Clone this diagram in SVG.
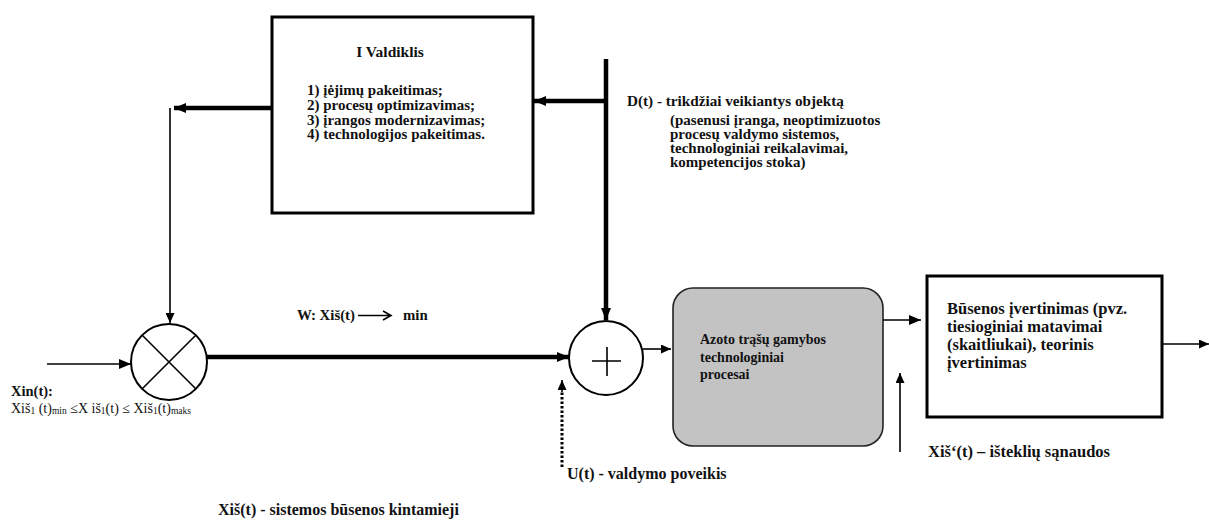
<svg xmlns="http://www.w3.org/2000/svg" width="1209" height="520" viewBox="0 0 1209 520">
  <style>
    .t { font-family: "Liberation Serif", "Times New Roman", serif; font-weight: bold; fill: #111; }
    .n { font-family: "Liberation Serif", "Times New Roman", serif; font-weight: normal; fill: #111; }
    .box { fill: #fff; stroke: #000; stroke-width: 3; }
    .sum { fill: #fff; stroke: #000; stroke-width: 2; }
    .thick { stroke: #000; stroke-width: 4.5; fill: none; }
    .thin { stroke: #000; stroke-width: 1.6; fill: none; }
  </style>
  <defs>
    <marker id="ah" markerUnits="userSpaceOnUse" markerWidth="12" markerHeight="10" refX="12" refY="5" orient="auto">
      <path d="M0,0 L12,5 L0,10 z" fill="#000"/>
    </marker>
    <marker id="ahs" markerUnits="userSpaceOnUse" markerWidth="10" markerHeight="9" refX="10" refY="4.5" orient="auto">
      <path d="M0,0 L10,4.5 L0,9 z" fill="#000"/>
    </marker>
  </defs>

  <rect width="1209" height="520" fill="#fff"/>

  <!-- controller block -->
  <g id="valdiklis">
    <rect class="box" x="272" y="17" width="261" height="196"/>
    <text class="t" x="390" y="57" font-size="15.5" text-anchor="middle">I Valdiklis</text>
    <text class="t" x="307" y="95" font-size="15">1) įėjimų pakeitimas;</text>
    <text class="t" x="307" y="110" font-size="15">2) procesų optimizavimas;</text>
    <text class="t" x="307" y="124.5" font-size="15">3) įrangos modernizavimas;</text>
    <text class="t" x="307" y="139" font-size="15">4) technologijos pakeitimas.</text>
  </g>

  <!-- disturbance label -->
  <g id="trikdziai">
    <text class="t" x="627" y="106" font-size="15.2">D(t) - trikdžiai veikiantys objektą</text>
    <text class="t" x="670" y="124.5" font-size="15">(pasenusi įranga, neoptimizuotos</text>
    <text class="t" x="670" y="138.8" font-size="15">procesų valdymo sistemos,</text>
    <text class="t" x="670" y="153.1" font-size="15">technologiniai reikalavimai,</text>
    <text class="t" x="670" y="167.4" font-size="15">kompetencijos stoka)</text>
  </g>

  <!-- multiplier junction -->
  <g id="daugiklis">
    <circle class="sum" cx="169" cy="362" r="38"/>
    <path class="thin" d="M142,335 L196,389 M196,335 L142,389" stroke-width="2"/>
  </g>

  <!-- input label -->
  <g id="iejimas">
    <text class="t" x="11" y="396" font-size="14.5">Xin(t):</text>
    <text class="n" x="11" y="413" font-size="14">Xiš<tspan font-size="9.5" dy="1">1</tspan><tspan dy="-1"> (t)</tspan><tspan font-size="9.5" dy="1">min</tspan><tspan dy="-1"> ≤X iš</tspan><tspan font-size="9.5" dy="1">1</tspan><tspan dy="-1">(t) ≤ Xiš</tspan><tspan font-size="9.5" dy="1">1</tspan><tspan dy="-1">(t)</tspan><tspan font-size="9.5" dy="1">maks</tspan></text>
  </g>

  <!-- goal label -->
  <g id="tikslas">
    <text class="t" x="297" y="320" font-size="14.8">W: Xiš(t)</text>
    <path class="thin" d="M358,315.5 L391,315.5 M383,311 L391,315.5 L383,320" stroke-width="1.2"/>
    <text class="t" x="403" y="320" font-size="14.8">min</text>
  </g>

  <!-- summing junction -->
  <g id="sumatorius">
    <circle class="sum" cx="606" cy="358" r="37"/>
    <path class="thin" d="M592,361 L621,361 M607,347 L607,376" stroke-width="1.6"/>
  </g>

  <!-- process block -->
  <g id="procesai">
    <rect x="673" y="288" width="210" height="158" rx="20" ry="20" fill="#c3c3c3" stroke="#222" stroke-width="1.6"/>
    <text class="t" x="700" y="344" font-size="14">Azoto trąšų gamybos</text>
    <text class="t" x="700" y="362" font-size="14">technologiniai</text>
    <text class="t" x="700" y="379" font-size="14">procesai</text>
  </g>

  <!-- state estimation block -->
  <g id="busena">
    <rect class="box" x="927" y="276" width="235" height="141"/>
    <text class="t" x="947" y="314" font-size="16.5">Būsenos įvertinimas (pvz.</text>
    <text class="t" x="947" y="332" font-size="16.5">tiesioginiai matavimai</text>
    <text class="t" x="947" y="350" font-size="16.5">(skaitliukai), teorinis</text>
    <text class="t" x="947" y="368" font-size="16.5">įvertinimas</text>
  </g>

  <!-- other labels -->
  <g id="valdymas">
    <text class="t" x="567" y="479" font-size="16">U(t) - valdymo poveikis</text>
  </g>
  <g id="sanaudos">
    <text class="t" x="928" y="457" font-size="16.5">Xiš‘(t) – išteklių sąnaudos</text>
  </g>
  <g id="kintamieji">
    <text class="t" x="218" y="515" font-size="16">Xiš(t) - sistemos būsenos kintamieji</text>
  </g>

  <!-- connectors -->
  <g id="connectors">
    <line class="thick" x1="606" y1="59" x2="606" y2="320" stroke-width="5" marker-end="url(#ah)"/>
    <line class="thick" x1="604" y1="101" x2="534" y2="101" marker-end="url(#ah)"/>
    <line class="thick" x1="272" y1="108" x2="174" y2="108" marker-end="url(#ah)"/>
    <line class="thin" x1="170" y1="108" x2="170" y2="323" marker-end="url(#ahs)"/>
    <line class="thin" x1="47" y1="364" x2="131" y2="364" marker-end="url(#ah)"/>
    <line class="thick" x1="207" y1="357" x2="569" y2="357" marker-end="url(#ah)"/>
    <line class="thin" x1="643" y1="349" x2="671" y2="349" marker-end="url(#ahs)"/>
    <line x1="562" y1="467" x2="562" y2="392" stroke="#000" stroke-width="3" stroke-dasharray="2.5,2"/>
    <line class="thin" x1="562" y1="392" x2="562" y2="380" stroke-width="0" marker-end="url(#ahs)"/>
    <line class="thin" x1="883" y1="320" x2="921" y2="320" marker-end="url(#ah)"/>
    <line class="thin" x1="900" y1="452" x2="900" y2="373" marker-end="url(#ahs)"/>
    <line class="thin" x1="1162" y1="344" x2="1209" y2="344" marker-end="url(#ahs)"/>
  </g>
</svg>
